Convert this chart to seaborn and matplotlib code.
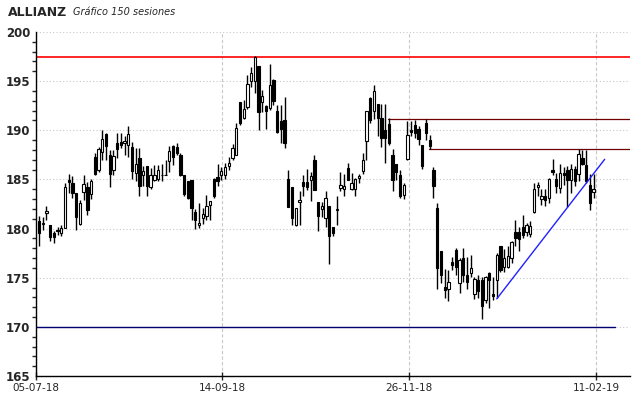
import numpy as np
import pandas as pd
import seaborn as sns
import matplotlib.pyplot as plt

# sesiones (150)
opens = [180.8, 180.5, 181.6, 180.4, 179.5, 179.9, 179.6, 180.1, 184.9, 184.6,
         183.6, 180.5, 183.7, 184.2, 183.5, 187.3, 186.0, 187.8, 189.6, 187.5,
         186.0, 188.7, 188.8, 188.7, 188.5, 188.3, 185.7, 187.2, 185.4, 186.4,
         184.2, 184.9, 185.0, 185.5, 185.5, 186.9, 188.4, 188.3, 187.5, 185.5,
         184.8, 184.9, 181.7, 180.4, 181.1, 181.3, 182.4, 185.0, 185.2, 185.4,
         185.4, 186.4, 187.2, 187.5, 192.9, 191.2, 192.4, 195.0, 195.0, 196.5,
         192.9, 192.5, 192.3, 195.1, 192.0, 190.9, 191.0, 185.0, 184.2, 180.4,
         182.7, 184.7, 184.7, 184.9, 187.0, 182.7, 182.0, 181.1, 182.3, 180.2,
         181.9, 184.1, 184.0, 186.2, 184.0, 184.0, 185.1, 185.9, 188.9, 193.3,
         192.0, 192.7, 191.2, 190.0, 190.6, 187.5, 186.6, 185.5, 183.4, 187.1,
         190.0, 190.5, 190.1, 188.5, 190.7, 189.0, 186.0, 182.1, 177.7, 174.1,
         173.9, 176.6, 177.8, 174.5, 177.0, 175.3, 175.5, 173.3, 174.8, 174.8,
         172.7, 175.5, 173.3, 174.8, 178.2, 176.1, 176.1, 177.0, 179.7, 179.7,
         180.2, 179.7, 179.4, 181.7, 184.2, 183.0, 183.3, 183.1, 186.0, 185.0,
         184.1, 185.7, 186.0, 184.9, 186.1, 185.6, 187.2, 186.5, 184.4, 183.7]
highs = [181.3, 181.2, 182.3, 180.4, 179.8, 180.2, 180.4, 184.6, 185.6, 185.3,
         183.6, 182.9, 185.4, 184.7, 185.0, 187.7, 188.3, 190.0, 189.7, 188.0,
         188.0, 189.7, 189.7, 189.4, 190.4, 188.8, 188.2, 188.2, 186.4, 186.4,
         186.2, 186.5, 186.5, 186.6, 187.0, 188.4, 188.5, 188.7, 187.7, 185.5,
         184.8, 184.9, 182.0, 182.6, 182.1, 183.4, 182.8, 185.1, 186.6, 186.3,
         186.7, 187.3, 188.6, 190.7, 192.9, 193.1, 195.6, 196.4, 197.6, 196.5,
         194.1, 192.6, 196.7, 195.2, 192.6, 192.6, 193.4, 186.0, 184.2, 182.1,
         183.8, 185.5, 186.1, 185.8, 187.5, 182.7, 182.7, 183.8, 182.3, 180.2,
         183.3, 185.8, 185.6, 186.7, 185.7, 185.1, 185.6, 187.7, 192.0, 193.4,
         194.6, 192.7, 192.7, 192.7, 191.2, 188.1, 186.6, 186.0, 184.6, 190.9,
         190.9, 191.0, 190.4, 188.5, 191.1, 189.5, 186.3, 182.6, 177.7, 175.9,
         175.8, 177.1, 178.0, 177.0, 178.0, 177.1, 177.3, 175.1, 175.3, 175.1,
         175.2, 175.6, 175.1, 177.5, 178.2, 177.9, 178.2, 178.7, 180.9, 180.2,
         181.4, 180.6, 180.8, 184.6, 184.7, 184.0, 184.0, 185.1, 187.1, 185.7,
         186.6, 186.3, 186.4, 186.6, 186.4, 188.1, 188.0, 188.0, 185.6, 185.6]
lows = [178.2, 179.9, 180.9, 178.7, 178.5, 179.3, 179.2, 180.1, 183.6, 183.1,
        179.9, 180.4, 182.9, 181.4, 183.0, 185.5, 185.8, 187.0, 187.0, 184.2,
        185.5, 187.2, 188.2, 187.5, 187.3, 185.0, 184.8, 183.3, 184.3, 183.3,
        184.0, 184.8, 184.8, 184.8, 185.4, 185.8, 186.5, 187.5, 185.3, 183.3,
        183.0, 180.9, 180.0, 180.1, 180.5, 180.9, 180.9, 183.1, 184.3, 184.9,
        185.0, 186.0, 187.0, 187.5, 190.5, 191.1, 192.2, 194.4, 193.8, 190.0,
        191.9, 190.1, 192.1, 192.6, 189.7, 188.7, 188.2, 182.2, 180.4, 180.3,
        180.4, 183.3, 183.9, 182.8, 183.9, 179.8, 181.2, 180.2, 176.4, 179.2,
        180.4, 183.8, 183.3, 184.9, 183.9, 183.3, 184.6, 185.6, 187.0, 190.7,
        191.1, 189.4, 188.3, 186.7, 188.5, 183.8, 184.9, 183.1, 183.0, 187.0,
        189.4, 189.2, 188.5, 186.1, 189.0, 188.1, 183.1, 173.9, 174.5, 172.9,
        172.6, 175.8, 175.3, 173.4, 174.6, 173.9, 175.1, 172.8, 172.9, 170.8,
        172.4, 171.9, 172.7, 172.9, 175.6, 175.6, 176.0, 176.5, 178.2, 177.7,
        179.0, 179.2, 179.1, 181.6, 183.3, 182.4, 182.3, 182.6, 185.5, 183.6,
        183.6, 184.4, 182.2, 183.6, 184.3, 184.8, 186.5, 184.6, 181.9, 183.1]
closes = [179.6, 180.6, 181.8, 179.1, 179.1, 179.8, 180.1, 184.2, 184.7, 183.6,
          181.2, 182.6, 184.5, 181.9, 184.8, 185.6, 188.1, 189.1, 188.4, 185.6,
          187.4, 188.1, 188.5, 188.9, 189.6, 185.9, 186.6, 184.3, 185.9, 184.3,
          185.4, 185.5, 186.0, 185.4, 185.4, 187.9, 187.3, 187.7, 185.5, 183.5,
          183.1, 182.1, 180.9, 180.6, 181.5, 182.3, 182.8, 183.3, 184.8, 185.9,
          186.3, 186.7, 188.2, 190.2, 190.7, 192.2, 194.7, 195.8, 197.5, 191.9,
          193.5, 192.0, 194.6, 193.0, 189.8, 190.1, 188.7, 182.2, 181.1, 182.1,
          182.9, 184.3, 184.2, 185.3, 183.9, 181.3, 182.3, 183.1, 179.2, 179.6,
          182.0, 184.4, 184.3, 184.9, 184.6, 185.0, 185.3, 187.0, 192.0, 191.0,
          194.0, 191.2, 189.2, 189.2, 188.7, 184.9, 185.8, 183.3, 184.4, 189.5,
          189.8, 189.7, 189.1, 186.4, 189.7, 188.4, 184.3, 176.0, 175.3, 173.7,
          174.6, 176.3, 176.1, 176.8, 175.3, 174.6, 176.0, 174.9, 173.6, 172.1,
          175.1, 174.8, 173.1, 177.3, 175.8, 177.0, 177.2, 178.6, 179.0, 178.9,
          179.3, 180.4, 180.3, 184.0, 184.4, 183.3, 182.9, 185.0, 185.8, 184.3,
          185.7, 185.5, 184.9, 186.1, 184.8, 187.6, 186.6, 184.8, 182.6, 184.0]

date_labels = ['05-07-18', '14-09-18', '26-11-18', '11-02-19']
date_pos = [-0.8, 49.2, 99.5, 149.7]

resistencia = 197.5
techo_1 = 191.1
techo_2 = 188.1
soporte = 170.0
tendencia_x = [123, 152]
tendencia_y = [172.85, 187.05]

sns.set_style('white')
plt.rcParams['font.family'] = ['DejaVu Sans']

df = pd.DataFrame({'open': opens, 'high': highs, 'low': lows, 'close': closes})
df['session'] = np.arange(len(df))
up = df['close'] >= df['open']

fig = plt.figure(figsize=(6.4, 3.98), dpi=100)
ax = fig.add_axes([36 / 640, 1 - 376 / 398, (630 - 36) / 640, 344 / 398])

x0, x1 = -0.7, 158.8
ax.set_xlim(x0, x1)
ax.set_ylim(165, 200)

# grid
ax.set_yticks(np.arange(165, 201, 5))
ax.set_yticks(np.arange(165, 201, 1), minor=True)
ax.set_xticks(date_pos)
ax.set_xticklabels(date_labels)
ax.yaxis.grid(True, which='major', color='#c8c8c8', linestyle=(0, (1, 2)), lw=0.8)
ax.xaxis.grid(True, color='#c8c8c8', linestyle=(0, (3, 2)), lw=0.8)
ax.set_axisbelow(True)

# lineas horizontales y tendencia
sns.lineplot(x=[x0, x1], y=[resistencia] * 2, color='#ff0000', lw=1.2, ax=ax, zorder=2)
sns.lineplot(x=[93.8, x1], y=[techo_1] * 2, color='#700000', lw=0.9, ax=ax, zorder=2)
sns.lineplot(x=[104.8, x1], y=[techo_2] * 2, color='#700000', lw=0.9, ax=ax, zorder=2)
sns.lineplot(x=[x0, 154.8], y=[soporte] * 2, color='#000070', lw=1.0, ax=ax, zorder=2)
sns.lineplot(x=tendencia_x, y=tendencia_y, color='#2020ff', lw=1.0, ax=ax, zorder=5)

# velas
ax.vlines(df['session'], df['low'], df['high'], color='black', lw=1, zorder=3)
body = (df['close'] - df['open']).abs().clip(lower=0.06)
ax.bar(df['session'], body, bottom=df[['open', 'close']].min(axis=1), width=0.62,
       color=np.where(up, 'white', 'black'), edgecolor='black', linewidth=0.8, zorder=4)

for s in ['top', 'right']:
    ax.spines[s].set_visible(False)
for s in ['left', 'bottom']:
    ax.spines[s].set_color('black')
    ax.spines[s].set_linewidth(1)

ax.tick_params(axis='y', which='major', direction='inout', length=6, width=1, labelsize=8.5, pad=1)
ax.tick_params(axis='y', which='minor', direction='out', length=3, width=1, left=True)
ax.tick_params(axis='x', which='major', direction='inout', length=6, width=1, labelsize=7.5, pad=2, bottom=True)
for t in ax.get_yticklabels():
    t.set_fontweight('bold')
ax.set_xlabel('')
ax.set_ylabel('')

fig.text(8 / 640, 1 - 12 / 398, 'ALLIANZ', fontsize=9, fontweight='bold', va='center', ha='left')
fig.text(73 / 640, 1 - 12 / 398, 'Gráfico 150 sesiones', fontsize=7, style='italic', va='center', ha='left')

fig.savefig('out.png', dpi=100)
